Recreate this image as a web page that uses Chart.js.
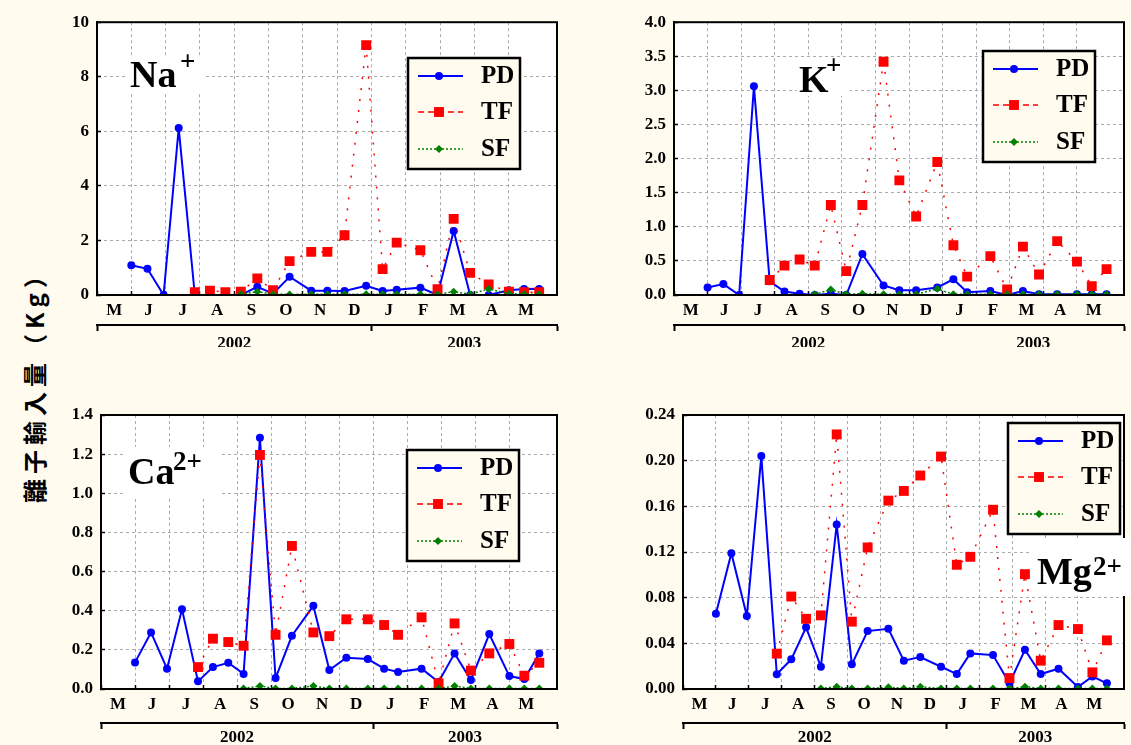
<!DOCTYPE html>
<html>
<head>
<meta charset="utf-8">
<script src="https://cdn.jsdelivr.net/npm/chart.js@4.4.1/dist/chart.umd.min.js"></script>
<style>
  body { margin: 0; background: #fffbef; width: 1131px; height: 745px; position: relative; overflow: hidden; }
  canvas { position: absolute; }
  #ytitle {
    position: absolute; left: 33px; top: 381px;
    transform: translate(-50%, -50%) rotate(-90deg);
    font: bold 24px "Noto Sans CJK TC", sans-serif; letter-spacing: 5px; white-space: nowrap;
  }
</style>
</head>
<body>
<div id="ytitle">離子輸入量（Kg）</div>
<canvas id="c1" width="530" height="360" style="left:40px;top:0px"></canvas>
<canvas id="c2" width="511" height="360" style="left:620px;top:0px"></canvas>
<canvas id="c3" width="530" height="355" style="left:40px;top:390px"></canvas>
<canvas id="c4" width="511" height="355" style="left:620px;top:390px"></canvas>
<script>
// sampling dates, months counted from 1 May 2002
const pdDates = [1.0, 1.47, 1.94, 2.38, 2.85, 3.29, 3.74, 4.19, 4.67, 5.13, 5.61, 6.24, 6.71,
                 7.21, 7.84, 8.32, 8.73, 9.42, 9.92, 10.39, 10.87, 11.41, 12.0, 12.44, 12.88];
const tfDates = pdDates.slice(4);
const sfDates = pdDates.slice(7);

const monthLabels = ['M', 'J', 'J', 'A', 'S', 'O', 'N', 'D', 'J', 'F', 'M', 'A', 'M'];
const yearLabels = ['2002', '2003'];
const yearMid = [4, 10.7];
const yearBounds = [0, 8, 13.4];
const xMax = 13.4;

// Na+
const naPD = [1.09, 0.96, 0, 6.12, 0, 0, 0, 0, 0.3, 0.05, 0.67, 0.16, 0.16, 0.15, 0.34, 0.15, 0.19, 0.27, 0, 2.35, 0, 0, 0.17, 0.22, 0.22];
const naTF = [0.1, 0.16, 0.1, 0.12, 0.61, 0.18, 1.24, 1.58, 1.58, 2.19, 9.16, 0.95, 1.92, 1.64, 0.21, 2.79, 0.81, 0.39, 0.12, 0.1, 0.1];
const naSF = [0.03, 0.12, 0.03, 0.02, 0.03, 0.03, 0.03, 0.03, 0.03, 0.03, 0.03, 0.02, 0.12, 0.03, 0.22, 0.05, 0.03, 0.03];
// K+
const kPD = [0.11, 0.16, 0, 3.06, 0.2, 0.05, 0.02, 0, 0.02, 0, 0.6, 0.14, 0.07, 0.07, 0.11, 0.23, 0.04, 0.06, 0, 0.06, 0.01, 0.01, 0.01, 0.01, 0.01];
const kTF = [0.22, 0.43, 0.52, 0.43, 1.32, 0.35, 1.32, 3.42, 1.68, 1.15, 1.95, 0.73, 0.27, 0.57, 0.08, 0.71, 0.3, 0.79, 0.49, 0.13, 0.38];
const kSF = [0.01, 0.08, 0.01, 0.02, 0.01, 0.01, 0.01, 0.09, 0.01, 0.01, 0.01, 0.01, 0.01, 0.01, 0.01, 0.01, 0.01, 0.01];
// Ca2+
const caPD = [0.136, 0.289, 0.104, 0.407, 0.039, 0.112, 0.134, 0.077, 1.284, 0.056, 0.272, 0.425, 0.097, 0.16, 0.153, 0.104, 0.087, 0.104, 0.036, 0.182, 0.046, 0.281, 0.066, 0.051, 0.182];
const caTF = [0.112, 0.257, 0.24, 0.221, 1.196, 0.277, 0.731, 0.289, 0.27, 0.356, 0.356, 0.327, 0.277, 0.366, 0.029, 0.335, 0.094, 0.182, 0.23, 0.068, 0.134];
const caSF = [0.003, 0.015, 0.003, 0.003, 0.015, 0.003, 0.003, 0.003, 0.003, 0.003, 0.003, 0.003, 0.015, 0.003, 0.003, 0.003, 0.003, 0.003];
// Mg2+
const mgPD = [0.066, 0.119, 0.064, 0.204, 0.013, 0.026, 0.054, 0.0195, 0.144, 0.0216, 0.0507, 0.0528, 0.0248, 0.028, 0.0195, 0.0131, 0.0312, 0.0297, 0.005, 0.0344, 0.0131, 0.0178, 0.0017, 0.011, 0.005];
const mgTF = [0.031, 0.081, 0.0615, 0.0645, 0.223, 0.059, 0.124, 0.165, 0.1735, 0.187, 0.2036, 0.1088, 0.1158, 0.157, 0.0096, 0.1006, 0.0248, 0.056, 0.0525, 0.0146, 0.0426];
const mgSF = [0.0005, 0.002, 0.0005, 0.0005, 0.0016, 0.0005, 0.002, 0.0005, 0.0005, 0.0005, 0.0005, 0.0005, 0.002, 0.0005, 0.0005, 0.0005, 0.0005, 0.0005];

const serif = '"Liberation Serif", "Times New Roman", serif';
Chart.defaults.font.family = serif;
Chart.defaults.font.weight = 'bold';
Chart.defaults.color = '#000';

const panels = [
  { id: 'c1', off: [40, 0], size: [530, 360], area: [97, 21, 557, 295], yMax: 10, yStep: 2, dec: 0,
    pd: naPD, tf: naTF, sf: naSF, bar: 30, legend: [408, 58],
    label: { main: 'Na', sup: '+', x: 130, y: 87, sx: 180, sy: 70, box: [125, 57, 78, 37] } },
  { id: 'c2', off: [620, 0], size: [511, 360], area: [674, 21, 1129, 295], yMax: 4, yStep: 0.5, dec: 1,
    pd: kPD, tf: kTF, sf: kSF, bar: 30, legend: [983, 51],
    label: { main: 'K', sup: '+', x: 799, y: 92, sx: 826, sy: 74, box: [797, 58, 53, 38] } },
  { id: 'c3', off: [40, 390], size: [530, 355], area: [101, 415, 557, 689], yMax: 1.4, yStep: 0.2, dec: 1,
    pd: caPD, tf: caTF, sf: caSF, bar: 34, legend: [407, 450],
    label: { main: 'Ca', sup: '2+', x: 128, y: 484, sx: 173, sy: 470, box: [124, 447, 96, 49] } },
  { id: 'c4', off: [620, 390], size: [511, 355], area: [683, 415, 1129, 689], yMax: 0.24, yStep: 0.04, dec: 2,
    pd: mgPD, tf: mgTF, sf: mgSF, bar: 34, legend: [1008, 423],
    label: { main: 'Mg', sup: '2+', x: 1037, y: 584, sx: 1093, sy: 575, box: [1030, 538, 101, 58] } }
];

function pts(dates, vals) {
  return dates.map((d, i) => ({ x: d, y: vals[i] }));
}

// white plot area
const areaFill = {
  id: 'areaFill',
  beforeDraw(chart) {
    const a = chart.chartArea, ctx = chart.ctx;
    ctx.save();
    ctx.fillStyle = '#fff';
    ctx.fillRect(a.left, a.top, a.width, a.height);
    ctx.restore();
  }
};

// frame + ion label + legend box
const deco = {
  id: 'deco',
  afterDatasetsDraw(chart, args, opts) {
    const a = chart.chartArea, ctx = chart.ctx;
    const [ox, oy] = opts.off;
    ctx.save();
    ctx.strokeStyle = '#000';
    ctx.lineWidth = 2;
    ctx.strokeRect(a.left, a.top, a.width, a.height);
    const lb = opts.label;
    ctx.fillStyle = '#fff';
    ctx.fillRect(lb.box[0] - ox, lb.box[1] - oy, lb.box[2], lb.box[3]);
    ctx.fillStyle = '#000';
    ctx.textBaseline = 'alphabetic';
    ctx.font = 'bold 38px ' + serif;
    ctx.fillText(lb.main, lb.x - ox, lb.y - oy);
    ctx.font = 'bold 27px ' + serif;
    ctx.fillText(lb.sup, lb.sx - ox, lb.sy - oy);
    ctx.restore();
  },
  afterDraw(chart, args, opts) {
    const ctx = chart.ctx;
    const bx = opts.legend[0] - opts.off[0], by = opts.legend[1] - opts.off[1];
    ctx.save();
    ctx.fillStyle = '#fffbef';
    ctx.fillRect(bx, by, 112, 111);
    ctx.strokeStyle = '#000';
    ctx.lineWidth = 2.5;
    ctx.strokeRect(bx, by, 112, 111);
    const rows = [18, 54, 91];
    chart.data.datasets.forEach((ds, i) => {
      const y = by + rows[i];
      ctx.strokeStyle = ds.borderColor;
      ctx.lineWidth = ds.borderWidth;
      ctx.setLineDash(ds.legendDash);
      ctx.beginPath();
      ctx.moveTo(bx + 10, y);
      ctx.lineTo(bx + 55, y);
      ctx.stroke();
      ctx.setLineDash([]);
      ctx.fillStyle = ds.pointBackgroundColor;
      Chart.helpers.drawPoint(ctx, { pointStyle: ds.pointStyle, radius: ds.pointRadius, rotation: 0, borderWidth: 0 }, bx + 31, y);
      ctx.fillStyle = '#000';
      ctx.font = 'bold 25px ' + serif;
      ctx.textBaseline = 'middle';
      ctx.fillText(ds.label, bx + 73, y + 1);
    });
    ctx.restore();
  }
};

panels.forEach(p => {
  const yWidth = p.area[0] - p.off[0];
  const padRight = p.off[0] + p.size[0] - p.area[2];
  const padTop = p.area[1] - p.off[1];
  const yearH = 22;
  const padBottom = p.off[1] + p.size[1] - p.area[3] - p.bar - yearH;

  new Chart(document.getElementById(p.id), {
    type: 'line',
    data: {
      datasets: [
        {
          label: 'PD', data: pts(pdDates, p.pd), order: 3,
          borderColor: '#0000ff', backgroundColor: '#0000ff', borderWidth: 2,
          pointStyle: 'circle', pointRadius: 4, pointBackgroundColor: '#0000ff', pointBorderWidth: 0,
          legendDash: [], clip: { left: 6, right: 6, top: 6, bottom: 0 }
        },
        {
          label: 'TF', data: pts(tfDates, p.tf), order: 2,
          borderColor: '#ff0000', backgroundColor: '#ff0000', borderWidth: 1.5, borderDash: [2, 9],
          pointStyle: 'rect', pointRadius: 7, pointBackgroundColor: '#ff0000', pointBorderWidth: 0,
          legendDash: [6, 4], clip: { left: 6, right: 6, top: 6, bottom: 0 }
        },
        {
          label: 'SF', data: pts(sfDates, p.sf), order: 1,
          borderColor: '#008000', backgroundColor: '#008000', borderWidth: 1.5, borderDash: [2, 2],
          pointStyle: 'rectRot', pointRadius: 4, pointBackgroundColor: '#008000', pointBorderWidth: 0,
          legendDash: [2, 2], clip: { left: 6, right: 6, top: 6, bottom: 0 }
        }
      ]
    },
    options: {
      responsive: false,
      animation: false,
      layout: { padding: { left: 0, right: padRight, top: padTop, bottom: padBottom } },
      plugins: {
        legend: { display: false },
        tooltip: { enabled: false },
        deco: { off: p.off, label: p.label, legend: p.legend }
      },
      scales: {
        x: {
          type: 'linear', min: 0, max: xMax, weight: 0,
          afterBuildTicks: s => { s.ticks = monthLabels.map((m, i) => ({ value: i })); },
          afterFit: s => { s.height = 0; },
          ticks: { display: false },
          grid: { color: '#aaaaaa', lineWidth: 1, drawTicks: true, tickLength: -4, tickColor: '#000', tickWidth: 1.5 },
          border: { color: '#000', width: 2, dash: [3, 3] }
        },
        xm: {
          type: 'linear', position: 'bottom', min: 0, max: xMax, weight: 1,
          afterBuildTicks: s => { s.ticks = monthLabels.map((m, i) => ({ value: i + 0.5 })); },
          afterFit: s => { s.height = p.bar; },
          ticks: { autoSkip: false, maxRotation: 0, padding: 7, font: { size: 17, lineHeight: 1 },
                   callback: (v, i) => monthLabels[i] },
          grid: { display: false, drawTicks: false },
          border: { display: false }
        },
        xy: {
          type: 'linear', position: 'bottom', min: 0, max: xMax, weight: 2,
          afterBuildTicks: s => { s.ticks = yearBounds.concat(yearMid).map(v => ({ value: v })); },
          afterFit: s => { s.height = yearH; },
          ticks: { autoSkip: false, maxRotation: 0, padding: p.bar === 30 ? 4 : 0,
                   font: { size: 17, lineHeight: 1 },
                   callback: v => { const k = yearMid.indexOf(v); return k >= 0 ? yearLabels[k] : ''; } },
          grid: {
            drawOnChartArea: false, drawTicks: true, tickLength: 6, tickWidth: 2,
            tickColor: c => (c.tick && yearBounds.includes(c.tick.value)) ? '#000' : 'rgba(0,0,0,0)'
          },
          border: { color: '#000', width: 2 }
        },
        y: {
          type: 'linear', min: 0, max: p.yMax,
          afterFit: s => { s.width = yWidth; },
          ticks: { stepSize: p.yStep, padding: 12, font: { size: 17 },
                   callback: v => Number(v).toFixed(p.dec) },
          grid: { color: '#aaaaaa', lineWidth: 1, drawTicks: true, tickLength: -4, tickColor: '#000', tickWidth: 1.5 },
          border: { color: '#000', width: 2, dash: [3, 3] }
        }
      }
    },
    plugins: [areaFill, deco]
  });
});
</script>
</body>
</html>
